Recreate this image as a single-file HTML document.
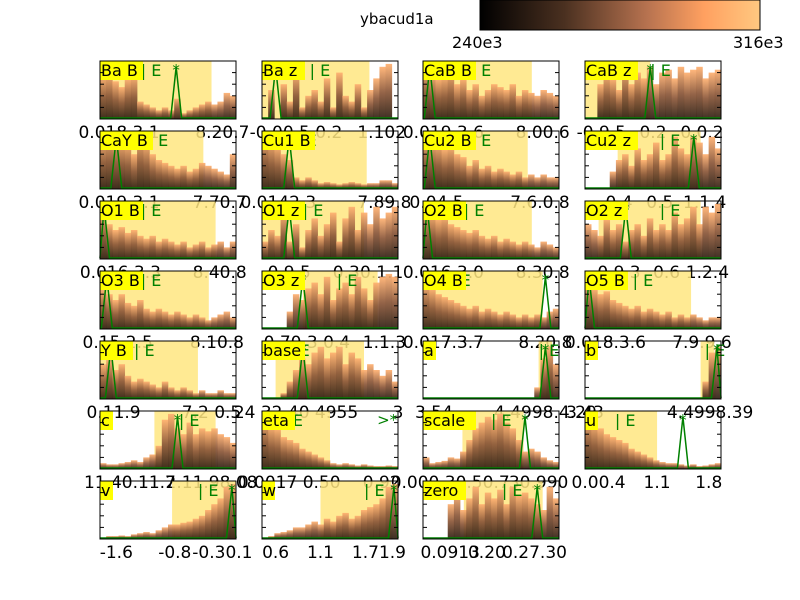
<!DOCTYPE html>
<html><head><meta charset="utf-8"><style>
body{margin:0;background:#fff;}
svg{display:block;font-family:"DejaVu Sans","Liberation Sans",sans-serif;}
</style></head><body>
<svg id="fig" width="800" height="600" viewBox="0 0 800 600">
<defs>
<linearGradient id="cbar" x1="0" x2="1" y1="0" y2="0">
<stop offset="0" stop-color="#000"/><stop offset="0.3" stop-color="#4a3020"/><stop offset="0.6" stop-color="#b87350"/><stop offset="0.8" stop-color="#ffa060"/><stop offset="1" stop-color="#ffc880"/>
</linearGradient>
<linearGradient id="barg" x1="0" x2="0" y1="1" y2="0">
<stop offset="0" stop-color="#2e1e12"/><stop offset="0.5" stop-color="#8a5638"/><stop offset="1" stop-color="#ffb070"/>
</linearGradient>
</defs>
<text x="360" y="24" font-size="15">ybacud1a</text>
<rect x="480" y="0" width="280" height="30" fill="url(#cbar)" stroke="#000"/>
<text x="452" y="48" font-size="16">240e3</text>
<text x="733" y="48" font-size="16">316e3</text>
<g id="panels"></g>
</svg>
<script>
const panelNames=["Ba B","Ba z","CaB B","CaB z","CaY B","Cu1 B","Cu2 B","Cu2 z","O1 B","O1 z","O2 B","O2 z","O3 B","O3 z","O4 B","O5 B","Y B","base","a","b","c","eta","scale","u","v","w","zero"];
const panelTicks=[
[[0.14,"0.018.3.1"],[0.9,"8.20.7"]],
[[0.25,"-0.00.5 0.2"],[0.88,"1.102"]],
[[0.15,"0.019.3.6"],[0.88,"8.00.6"]],
[[0.12,"-0.9.5"],[0.5,"0.2"],[0.86,"0.0.2"]],
[[0.14,"0.019.3.1"],[0.88,"7.70.7"]],
[[0.12,"0.0142.3"],[0.9,"7.89.8"]],
[[0.1,"0.04.5"],[0.86,"7.6.0.8"]],
[[0.25,"0.4"],[0.55,"0.5"],[0.88,"1.1.4"]],
[[0.15,"0.016.3.3"],[0.88,"8.40.8"]],
[[0.2,"0.9.5"],[0.62,"0.3"],[0.88,"0.1.1"]],
[[0.15,"0.016.3.0"],[0.88,"8.30.8"]],
[[0.25,"0.9.3"],[0.6,"0.6"],[0.9,"1.2.4"]],
[[0.13,"0.15.2.5"],[0.86,"8.10.8"]],
[[0.33,"0.70.3 0.4"],[0.9,"1.1.3"]],
[[0.15,"0.017.3.7"],[0.9,"8.20.8"]],
[[0.15,"0.018.3.6"],[0.86,"7.9.9.6"]],
[[0.1,"0.11.9"],[0.82,"7.2 0.5"]],
[[0.25,"24 32 40 4955"],[1.0,"3"]],
[[0.08,"3.54"],[0.9,"4.4998.4.29"]],
[[0.0,"3.43"],[0.92,"4.4998.39"]],
[[0.22,"11 40.11.7"],[0.82,"2.11.98.08"]],
[[0.2,"0.0017 0.50"],[0.88,"0.92"]],
[[0.2,"0.000.30.50.7"],[0.85,"30.990"]],
[[0.1,"0.00.4"],[0.53,"1.1"],[0.91,"1.8"]],
[[0.12,"-1.6"],[0.55,"-0.8"],[0.9,"-0.30.1"]],
[[0.1,"0.6"],[0.43,"1.1"],[0.86,"1.71.9"]],
[[0.2,"0.0913"],[0.47,"0.20"],[0.82,"0.27.30"]]
];
const spans=[[0,0.82],[0,0.79],[0,0.8],[0,0.48],[0,0.76],[0,0.77],[0,0.77],[0.24,0.85],[0,0.85],[0,0.75],[0,0.8],[0.1,0.85],[0,0.8],[0.3,0.85],[0,0.88],[0,0.78],[0,0.72],[0.1,0.75],[0.85,0.95],[0.85,0.95],[0.4,0.85],[0,0.5],[0.29,0.74],[0,0.53],[0.53,1],[0.43,0.95],[0.3,0.88]];
const peaks=[0.56,0.1,0.05,0.48,0.12,0.2,0.05,0.8,0.03,0.2,0.03,0.3,0.05,0.3,0.9,0.03,0.08,0.3,0.9,0.97,0.57,-1,0.75,0.72,0.97,0.97,0.84];
const eMarks=[0.3,0.35,0.35,0.48,0.35,0.25,0.35,0.55,0.3,0.3,0.3,0.55,0.3,0.55,0.2,0.35,0.25,0.2,0.85,0.88,0.58,0.15,0.5,0.22,0.72,0.75,0.58];
const barHeights=[
[0.75,0.8,0.65,0.55,0.7,0.75,0.3,0.25,0.2,0.15,0.2,0.15,0.35,0.1,0.15,0.2,0.25,0.3,0.25,0.3,0.45,0.4],
[0,0.5,0,0.6,0.3,0.8,0.2,0.4,0.5,0.3,0.7,0.2,0.8,0.4,0.3,0.6,0.2,0.5,0.7,0.9,0.95,0],
[0.9,0.8,0.7,0.75,0.85,0.6,0.7,0.5,0.6,0.4,0.5,0.6,0.55,0.5,0.6,0.4,0.5,0.45,0.4,0.5,0.45,0.4],
[0,0,0.6,0.8,0.7,0.5,0.9,0.6,0.8,0.7,0.9,0.6,0.8,0.85,0.7,0.9,0.8,0.85,0.9,0.7,0.8,0.85],
[0.9,0.95,0.9,0.85,0.8,0.6,0.9,0.8,0.6,0.5,0.45,0.4,0.35,0.4,0.3,0.35,0.45,0.4,0.35,0.3,0.25,0.6],
[0.95,0.85,0.75,0.6,0.5,0.2,0.15,0.2,0.15,0.1,0.12,0.1,0.08,0.1,0.12,0.1,0.08,0.1,0.1,0.15,0.15,0.1],
[0.9,0.85,0.8,0.7,0.75,0.6,0.55,0.4,0.5,0.35,0.4,0.3,0.35,0.3,0.25,0.3,0.2,0.25,0.2,0.25,0.2,0.2],
[0,0,0,0,0.3,0.5,0.6,0.4,0.7,0.5,0.6,0.8,0.5,0.6,0.9,0.7,0.6,0.9,0.8,0.6,0.9,0.7],
[0.8,0.6,0.5,0.55,0.45,0.5,0.4,0.35,0.4,0.3,0.35,0.3,0.25,0.3,0.2,0.25,0.3,0.2,0.25,0.3,0.2,0.3],
[0.3,0.5,0.4,0.8,0.3,0.6,0.2,0.5,0.7,0.4,0.6,0.8,0.3,0.7,0.9,0.5,0.8,0.6,0.9,0.7,0.8,0.9],
[0.85,0.8,0.7,0.75,0.6,0.55,0.5,0.45,0.5,0.4,0.35,0.4,0.3,0.35,0.3,0.25,0.3,0.25,0.2,0.3,0.25,0.2],
[0.6,0.5,0.4,0.7,0.5,0.6,0.3,0.5,0.6,0.4,0.7,0.5,0.6,0.5,0.8,0.6,0.7,0.9,0.6,0.9,0.8,0.95],
[0.7,0.6,0.5,0.6,0.45,0.4,0.5,0.35,0.3,0.35,0.3,0.25,0.3,0.25,0.2,0.25,0.2,0.15,0.2,0.25,0.3,0.2],
[0,0,0,0,0.3,0.6,0.5,0.7,0.8,0.6,0.9,0.5,0.7,0.8,0.6,0.9,0.7,0.5,0.8,0.9,0.95,0.9],
[0.8,0.7,0.6,0.55,0.5,0.45,0.4,0.35,0.4,0.3,0.35,0.3,0.25,0.3,0.25,0.2,0.25,0.2,0.25,0.2,0.3,0.35],
[0.8,0.7,0.6,0.65,0.5,0.45,0.4,0.35,0.4,0.3,0.35,0.3,0.25,0.3,0.2,0.25,0.2,0.25,0.2,0.15,0.2,0.2],
[0.6,0.7,0.5,0.6,0.4,0.3,0.35,0.3,0.25,0.2,0.3,0.2,0.15,0.2,0.15,0.1,0.15,0.1,0.1,0.15,0.1,0.1],
[0,0,0,0.1,0.3,0.5,0.7,0.6,0.8,0.9,0.7,0.8,0.9,0.6,0.8,0.7,0.5,0.6,0.5,0.4,0.5,0.3],
[0,0,0,0,0,0,0,0,0,0,0,0,0,0,0,0,0,0,0.2,0.7,0.9,0.6],
[0,0,0,0,0,0,0,0,0,0,0,0,0,0,0,0,0,0,0,0.3,0.8,0.9],
[0.1,0.08,0.08,0.1,0.12,0.15,0.12,0.2,0.25,0.4,0.85,0.95,0.7,0.6,0.8,0.6,0.7,0.65,0.7,0.6,0.55,0.45],
[0.9,0.75,0.7,0.55,0.5,0.45,0.35,0.3,0.25,0.2,0.15,0.1,0.08,0.1,0.08,0.06,0.08,0.06,0.05,0.05,0.06,0.05],
[0.2,0.1,0.12,0.14,0.2,0.18,0.3,0.5,0.7,0.8,0.9,0.85,0.95,0.8,0.7,0.5,0.3,0.35,0.3,0.2,0.15,0.12],
[0.9,0.8,0.7,0.6,0.55,0.5,0.45,0.35,0.3,0.25,0.2,0.15,0.12,0.1,0.1,0.08,0.06,0.08,0.05,0.06,0.08,0.1],
[0,0.05,0.05,0.06,0.05,0.08,0.1,0.12,0.1,0.15,0.2,0.25,0.25,0.28,0.3,0.35,0.4,0.5,0.6,0.7,0.9,0.95],
[0,0.05,0.1,0.12,0.15,0.2,0.2,0.25,0.3,0.25,0.35,0.3,0.4,0.45,0.35,0.4,0.5,0.55,0.6,0.7,0.9,0.95],
[0,0,0,0,0.6,0.8,0.5,0.7,0.9,0.6,0.8,0.7,0.85,0.6,0.9,0.75,0.8,0.7,0.6,0.5,0.9,0.7]
];
const NS="http://www.w3.org/2000/svg";
const colX=[100,262,423,585], rowY=[61,131,201,271,341,411,481], PW=136, PH=58;
function mk(tag,attrs,parent){const e=document.createElementNS(NS,tag);for(const k in attrs)e.setAttribute(k,attrs[k]);parent.appendChild(e);return e;}
const root=document.getElementById('panels');
panelNames.forEach((nm,i)=>{
  const x0=colX[i%4], y0=rowY[Math.floor(i/4)];
  const sx=f=>x0+f*PW, sy=v=>y0+PH-v*PH;
  const g=mk('g',{},root);
  
  
  const sp=spans[i];
  const sh=mk('rect',{x:sx(sp[0]),y:y0,width:(sp[1]-sp[0])*PW,height:PH,fill:'#ffe680',opacity:0.85},g);
  
  
  const bars=barHeights[i], bw=PW/bars.length;
  bars.forEach((h,j)=>{
    if(h<=0)return;
    const r=mk('rect',{x:x0+j*bw,y:sy(h),width:bw+0.3,height:h*PH,fill:'url(#barg)',opacity:0.92},g);
    
    
  });
  const p=peaks[i];
  let d='M'+x0+' '+(y0+PH-1);
  if(p>=0){d+=' L'+sx(Math.max(0,p-0.04))+' '+(y0+PH-1)+' L'+sx(p)+' '+(y0+6)+' L'+sx(Math.min(1,p+0.04))+' '+(y0+PH-1);}
  d+=' L'+(x0+PW)+' '+(y0+PH-1);
  const ln=mk('path',{d:d,fill:'none',stroke:'#008000','stroke-width':1.5},g);
  
  
  const st=mk('text',{x:p>=0?sx(p):sx(0.92),y:y0+14,'font-size':15,fill:'#008000','text-anchor':'middle'},g);
  st.textContent=p>=0?'*':'>*';
  
  
  const et=mk('text',{x:sx(eMarks[i]),y:y0+15,'font-size':16,fill:'#008000'},g);
  et.textContent='| E';
  
  
  const lw=nm.length*10+3;
  const lb=mk('rect',{x:x0,y:y0,width:lw,height:19,fill:'#ffff00'},g);
  
  
  const lt=mk('text',{x:x0+1,y:y0+15,'font-size':16,fill:'#000'},g);
  lt.textContent=nm;
  
  
  for(let k=1;k<5;k++){
    const yy=y0+k*PH/5;
    const t1=mk('line',{x1:x0,x2:x0+4,y1:yy,y2:yy,stroke:'#000'},g);
    
    
    const t2=mk('line',{x1:x0+PW-4,x2:x0+PW,y1:yy,y2:yy,stroke:'#000'},g);
    
    
  }
  const fr=mk('rect',{x:x0,y:y0,width:PW,height:PH,fill:'none',stroke:'#000','stroke-width':1},g);
  
  
  panelTicks[i].forEach(t=>{
    const tx=mk('text',{x:sx(t[0]),y:y0+PH+19,'font-size':17,'text-anchor':'middle',fill:'#000'},g);
    tx.textContent=t[1];
    
    
  });
});
</script>
</body></html>
